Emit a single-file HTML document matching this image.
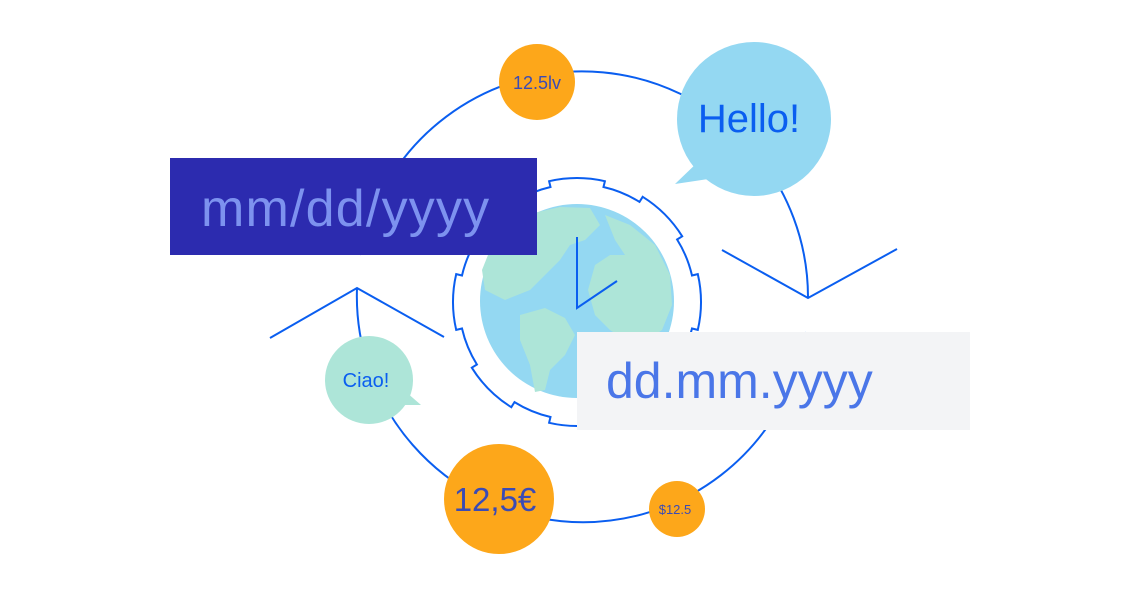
<!DOCTYPE html>
<html><head><meta charset="utf-8"><style>
html,body{margin:0;padding:0;background:#fff;}
svg{display:block;}
text{font-family:"Liberation Sans",sans-serif;}
</style></head><body>
<svg width="1140" height="600" viewBox="0 0 1140 600" xmlns="http://www.w3.org/2000/svg">
<g fill="none" stroke="#0a5ef0" stroke-width="2">
<path d="M360 255 A226 226 0 0 1 808 297"/>
<path d="M806 332 A226 226 0 0 1 357 288"/>
<polyline points="722,250 808,298 897,249"/>
<polyline points="270,338 357,288 444,337"/>
<path id="gear" d=""/>
</g>
<circle cx="577" cy="301" r="97" fill="#94d8f2"/>
<g fill="#ade5d8">
<path d="M500 235 L525 215 L560 207 L590 208 L600 225 L585 240 L570 245 L560 260 L545 275 L530 290 L505 300 L485 290 L482 270 L490 250 Z"/>
<path d="M605 215 L630 225 L655 245 L670 275 L672 305 L662 330 L640 345 L625 340 L610 330 L595 315 L588 290 L595 265 L610 255 L625 255 L615 240 Z"/>
<path d="M520 315 L545 308 L565 318 L575 335 L565 355 L550 370 L545 390 L535 392 L530 365 L520 340 Z"/>
</g>
<g stroke="#0a5ef0" stroke-width="2" fill="none">
<polyline points="577,237 577,308 617,281"/>
</g>
<rect x="170" y="158" width="367" height="97" fill="#2c2baf"/>
<text x="201" y="226" font-size="52" letter-spacing="1.2" fill="#7d92ef">mm/dd/yyyy</text>
<rect x="577" y="332" width="393" height="98" fill="#f3f4f6"/>
<text x="606" y="398" font-size="50" fill="#4a76e8">dd.mm.yyyy</text>
<path d="M700 160 L675 184 L715 178 Z" fill="#94d8f2"/>
<circle cx="754" cy="119" r="77" fill="#94d8f2"/>
<text x="749" y="132" font-size="40" fill="#0a5ef0" text-anchor="middle">Hello!</text>
<circle cx="537" cy="82" r="38" fill="#fda71a"/>
<text x="537" y="89" font-size="18" fill="#3b4bb5" text-anchor="middle">12.5lv</text>
<path d="M398 385 L421 405 L395 405 Z" fill="#ade5d8"/>
<circle cx="369" cy="380" r="44" fill="#ade5d8"/>
<text x="366" y="387" font-size="20" fill="#0a5ef0" text-anchor="middle">Ciao!</text>
<circle cx="499" cy="499" r="55" fill="#fda71a"/>
<text x="495" y="511" font-size="33" fill="#3b4bb5" text-anchor="middle">12,5€</text>
<circle cx="677" cy="509" r="28" fill="#fda71a"/>
<text x="675" y="514" font-size="13" fill="#3b4bb5" text-anchor="middle">$12.5</text>
</svg>
<script>
(function(){
var cx=577,cy=302,r1=118,r2=124,n=8,tw=13*Math.PI/180,d="";
function p(r,a){return (cx+r*Math.cos(a)).toFixed(1)+" "+(cy+r*Math.sin(a)).toFixed(1);}
for(var i=0;i<n;i++){
var a=i*2*Math.PI/n, a0=a-tw, a1=a+tw, an=(i+1)*2*Math.PI/n-tw;
if(i==0)d+="M"+p(r1,a0);
d+=" L"+p(r2,a0)+" A"+r2+" "+r2+" 0 0 1 "+p(r2,a1)+" L"+p(r1,a1)+" A"+r1+" "+r1+" 0 0 1 "+p(r1,an);
}
d+=" Z";
document.getElementById("gear").setAttribute("d",d);
})();
</script>
</body></html>
